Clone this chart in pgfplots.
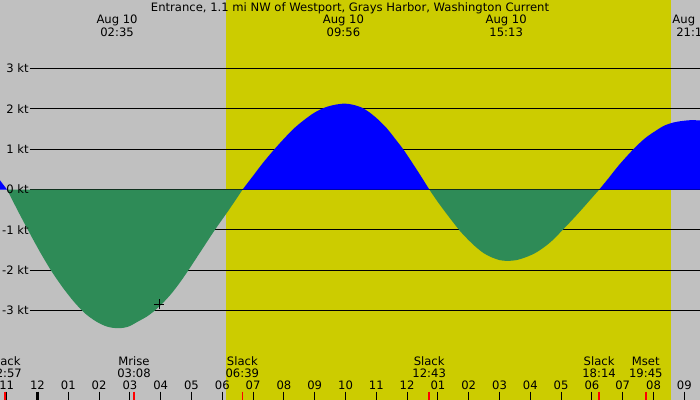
\documentclass[border=0pt]{standalone}
\usepackage{pgfplots}
\pgfplotsset{compat=1.18}
\usepackage{fontspec}
\setmainfont{DejaVu Sans}
\definecolor{nightgray}{HTML}{C0C0C0}
\definecolor{dayyellow}{HTML}{CCCC00}
\definecolor{ebbgreen}{HTML}{2E8B57}
\definecolor{floodblue}{HTML}{0000FF}
\newcommand{\lbl}{\fontsize{11.6}{14}\selectfont}
\tikzset{txt/.style={anchor=base, inner sep=0pt, font=\lbl}}
% hour label, event label, extreme label, kt label
\newcommand{\hr}[2]{\node[txt] at (axis cs:#1,-4.954) {#2};}
\newcommand{\evt}[3]{\node[txt] at (axis cs:#1,-4.376) {#2};
  \node[txt] at (axis cs:#1,-4.666) {#3};}
\newcommand{\ext}[2]{\node[txt] at (axis cs:#1,4.104) {Aug 10};
  \node[txt] at (axis cs:#1,3.806) {#2};}
\newcommand{\kt}[1]{\node[anchor=east, inner sep=0pt, font=\lbl] at (axis cs:-0.28,#1) {#1 kt};}

\begin{document}
\begin{tikzpicture}
\begin{axis}[
    scale only axis, width=700pt, height=400pt,
    xmin=-1.2175, xmax=21.5097, ymin=-5.219, ymax=4.699,
    axis lines=none, ticks=none,
    axis background/.style={fill=nightgray},
  ]
  % daylight, 06:07 - 20:34
  \addplot[draw=none, fill=dayyellow] coordinates {(6.12,-5.3) (20.568,-5.3) (20.568,4.8) (6.12,4.8)};
  % kt lines
  \pgfplotsinvokeforeach{-3,-2,-1,0,1,2,3}{
    \addplot[black, line width=1pt] coordinates {(-0.2435,#1) (21.6,#1)};
  }
  % current, flood blue / ebb green
  \addplot[draw=none, fill=floodblue] coordinates {
    (-1.25,0) (-1.25,0.26) (-0.99,0)};
  \addplot[draw=none, fill=ebbgreen, smooth, tension=0.5] coordinates {
    (-0.99,0) (-0.63,-0.54) (-0.27,-1.06) (0.09,-1.56) (0.45,-2.02) (0.82,-2.43)
    (1.18,-2.78) (1.54,-3.07) (1.90,-3.27) (2.26,-3.40) (2.62,-3.44) (2.95,-3.40)
    (3.27,-3.27) (3.55,-3.15) (3.81,-3.00) (4.10,-2.79) (4.36,-2.57) (4.63,-2.30)
    (4.90,-2.00) (5.33,-1.50) (5.76,-1.00) (6.22,-0.50) (6.66,0)};
  \addplot[draw=none, fill=floodblue, smooth, tension=0.5] coordinates {
    (6.66,0) (6.99,0.33) (7.32,0.66) (7.66,0.97) (7.99,1.25) (8.32,1.51) (8.65,1.72)
    (8.98,1.90) (9.32,2.03) (9.65,2.10) (9.98,2.13) (10.25,2.10) (10.53,2.03)
    (10.80,1.90) (11.08,1.72) (11.35,1.51) (11.62,1.25) (11.90,0.97) (12.17,0.66)
    (12.45,0.33) (12.72,0)};
  \addplot[draw=none, fill=ebbgreen, smooth, tension=0.5] coordinates {
    (12.72,0) (12.97,-0.28) (13.23,-0.55) (13.48,-0.80) (13.73,-1.04) (13.99,-1.25)
    (14.24,-1.43) (14.49,-1.58) (14.74,-1.68) (15.00,-1.75) (15.25,-1.77)
    (15.55,-1.75) (15.85,-1.68) (16.15,-1.58) (16.45,-1.43) (16.75,-1.24)
    (17.04,-1.01) (17.34,-0.77) (17.64,-0.52) (17.94,-0.26) (18.24,0)};
  \addplot[draw=none, fill=floodblue, smooth, tension=0.5] coordinates {
    (18.24,0) (18.54,0.28) (18.84,0.57) (19.14,0.83) (19.44,1.07) (19.74,1.28)
    (20.04,1.44) (20.34,1.58) (20.64,1.66) (20.94,1.70) (21.24,1.72) (21.54,1.71)
    (21.80,1.70) (21.80,0)};
  \addplot[only marks, mark=+, mark size=5pt, black, line width=1pt] coordinates {(3.955,-2.839)};
  % hour ticks
  \pgfplotsinvokeforeach{-1,1,2,...,21}{
    \draw[black, line width=1pt] (axis cs:#1,-5.014) -- (axis cs:#1,-5.3);
  }
  \draw[black, line width=3pt] (axis cs:0,-5.014) -- (axis cs:0,-5.3);
  % slack / moon ticks
  \pgfplotsinvokeforeach{-1.05,3.133,6.65,12.717,18.233,19.75}{
    \draw[red, line width=1.4pt] (axis cs:#1,-5.014) -- (axis cs:#1,-5.3);
  }
  % hour labels
  \hr{-1}{11} \hr{0}{12} \hr{1}{01} \hr{2}{02} \hr{3}{03} \hr{4}{04} \hr{5}{05}
  \hr{6}{06} \hr{7}{07} \hr{8}{08} \hr{9}{09} \hr{10}{10} \hr{11}{11} \hr{12}{12}
  \hr{13}{01} \hr{14}{02} \hr{15}{03} \hr{16}{04} \hr{17}{05} \hr{18}{06}
  \hr{19}{07} \hr{20}{08} \hr{21}{09}
  % slack and moon events
  \evt{-1.05}{Slack}{22:57} \evt{3.133}{Mrise}{03:08} \evt{6.65}{Slack}{06:39}
  \evt{12.717}{Slack}{12:43} \evt{18.233}{Slack}{18:14} \evt{19.75}{Mset}{19:45}
  % max / min current
  \ext{2.583}{02:35} \ext{9.933}{09:56} \ext{15.217}{15:13} \ext{21.283}{21:17}
  % kt labels
  \kt{3} \kt{2} \kt{1} \kt{0} \kt{-1} \kt{-2} \kt{-3}
  \node[txt] at (axis cs:10.146,4.426)
    {Entrance, 1.1 mi NW of Westport, Grays Harbor, Washington Current};
\end{axis}
\pgfresetboundingbox
\path (current axis.south west) rectangle (current axis.north east);
\end{tikzpicture}
\end{document}
